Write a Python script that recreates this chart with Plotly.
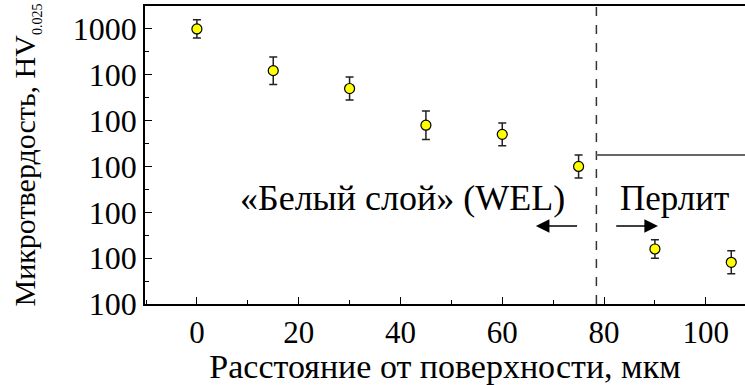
import plotly.graph_objects as go

# Data
distance_um = [0, 15, 30, 45, 60, 75, 90, 105]
hardness = [1000, 909, 870, 790, 770, 700, 520, 491]
hardness_err = [20, 30, 25, 31, 25, 25, 20, 25]

y_tick_vals = [400, 500, 600, 700, 800, 900, 1000]
y_tick_text = ["100", "100", "100", "100", "100", "100", "1000"]
x_tick_vals = [0, 20, 40, 60, 80, 100]

boundary_x = 78.5
pearlite_level = 725

FONT = "Liberation Serif"

fig = go.Figure()

fig.add_trace(go.Scatter(
    x=distance_um, y=hardness, mode="markers",
    marker=dict(color="#FFFF00", size=10, line=dict(color="black", width=1.2)),
    error_y=dict(type="data", array=hardness_err, visible=True,
                 color="#222", thickness=1.5, width=4),
    showlegend=False,
))

# boundary dashed line
fig.add_shape(type="line", xref="x", yref="paper", x0=boundary_x, x1=boundary_x,
              y0=0, y1=1, line=dict(color="#333", width=1.5, dash="dash"))
# pearlite level line
fig.add_shape(type="line", xref="x", yref="y", x0=boundary_x, x1=108.5,
              y0=pearlite_level, y1=pearlite_level,
              line=dict(color="#666", width=2))

fig.add_annotation(x=40.3, y=631, xref="x", yref="y", text="«Белый слой» (WEL)",
                   showarrow=False, font=dict(family=FONT, size=36, color="black"))
fig.add_annotation(x=93.9, y=631, xref="x", yref="y", text="Перлит",
                   showarrow=False, font=dict(family=FONT, size=35, color="black"))

# arrows
fig.add_annotation(x=66.6, y=570, ax=75.0, ay=570, xref="x", yref="y",
                   axref="x", ayref="y", text="", showarrow=True,
                   arrowhead=2, arrowsize=1.7, arrowwidth=1.6, arrowcolor="black")
fig.add_annotation(x=90.6, y=570, ax=82.1, ay=570, xref="x", yref="y",
                   axref="x", ayref="y", text="", showarrow=True,
                   arrowhead=2, arrowsize=1.7, arrowwidth=1.6, arrowcolor="black")

fig.update_xaxes(
    range=[-10.2, 107.7], tickvals=x_tick_vals,
    showline=True, linecolor="black", linewidth=1.5, mirror=True,
    ticks="inside", ticklen=7, tickwidth=1.2, tickcolor="black",
    minor=dict(ticks="inside", ticklen=4, tickwidth=1.2, tickcolor="black", dtick=10, tick0=0),
    showgrid=False, zeroline=False,
    tickfont=dict(family=FONT, size=31, color="black"),
    title=dict(text="Расстояние от поверхности, мкм",
               font=dict(family=FONT, size=34, color="black"), standoff=5),
)
fig.update_yaxes(
    range=[400, 1050], tickvals=y_tick_vals, ticktext=y_tick_text,
    showline=True, linecolor="black", linewidth=1.5, mirror=False,
    ticks="inside", ticklen=7, tickwidth=1.2, tickcolor="black",
    minor=dict(ticks="inside", ticklen=4, tickwidth=1.2, tickcolor="black", dtick=50, tick0=0),
    showgrid=False, zeroline=False,
    tickfont=dict(family=FONT, size=32, color="black"),
    title=dict(text="Микротвердость, HV<sub><span style='font-size:14px'>0.025</span></sub>",
               font=dict(family=FONT, size=30, color="black"), standoff=28),
)

fig.update_layout(
    width=745, height=385,
    margin=dict(l=145, r=0, t=6, b=81),
    plot_bgcolor="white", paper_bgcolor="white",
    font=dict(family=FONT, color="black"),
)

fig.write_html("out.html", config={"displayModeBar": False},
               post_script="document.body.style.margin='0';")
